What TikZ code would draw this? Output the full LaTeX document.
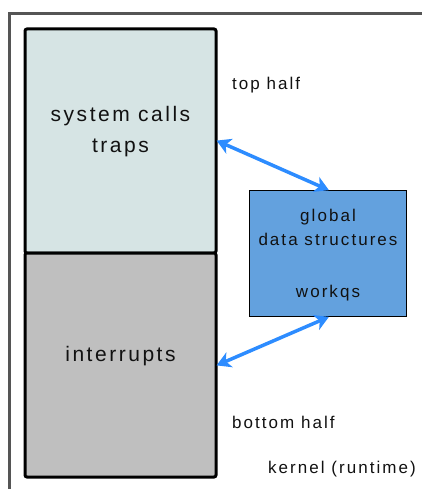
\documentclass[tikz,border=0pt]{standalone}
\usepackage{fontspec}
\setmainfont{Liberation Sans}[LetterSpace=12]
\usetikzlibrary{arrows.meta}
\definecolor{frameg}{HTML}{555555}
\definecolor{topfill}{HTML}{D6E4E4}
\definecolor{botfill}{HTML}{BFBFBF}
\definecolor{bluefill}{HTML}{63A1DE}
\definecolor{arrowblue}{HTML}{2D8CFF}
\definecolor{txt}{HTML}{111111}
\tikzset{
  stackbox/.style={draw=black, line width=3pt, rounded corners=2pt, minimum width=191pt, minimum height=224pt, inner sep=0pt},
  bigtext/.style={text=txt, font=\fontsize{21pt}{31pt}\selectfont, align=center},
  databox/.style={draw=black, line width=1.5pt, fill=bluefill, minimum width=157pt, minimum height=126pt, inner sep=0pt},
  smalltext/.style={text=txt, font=\fontsize{17pt}{24pt}\selectfont, align=center},
  lbl/.style={anchor=west, inner sep=0pt, text=txt, font=\fontsize{17pt}{19pt}\selectfont},
  link/.style={draw=arrowblue, line width=3.5pt, {Stealth[length=14pt,width=16pt,inset=4pt]}-{Stealth[length=14pt,width=16pt,inset=4pt]}, shorten <=-1pt, shorten >=-1pt}
}
\begin{document}
\begin{tikzpicture}[x=1pt,y=-1pt]
\useasboundingbox (0,0) rectangle (422,489);
\begin{scope}
\clip (0,0) rectangle (422,489);
\draw[frameg, line width=3pt] (9.5,13.5) rectangle (440,520);
\end{scope}
\node[stackbox, fill=topfill] (top) at (120.5,141) {};
\node[stackbox, fill=botfill] (bot) at (120.5,365) {};
\node[bigtext] (toptext) at (120.5,132) {system calls\\traps};
\node[bigtext] (bottext) at (120.5,356.5) {interrupts};
\node[databox] (data) at (328,253.5) {};
\node[smalltext] (datatext) at (328,255) {global\\data structures\\[28pt]workqs};
\node[lbl] (tophalf) at (232,85) {top half};
\node[lbl] (bothalf) at (232,422) {bottom half};
\node[lbl] (kernel) at (268,469) {kernel (runtime)};
\draw[link] (top.east) -- (data.north);
\draw[link] (bot.east) -- (data.south);
\end{tikzpicture}
\end{document}
